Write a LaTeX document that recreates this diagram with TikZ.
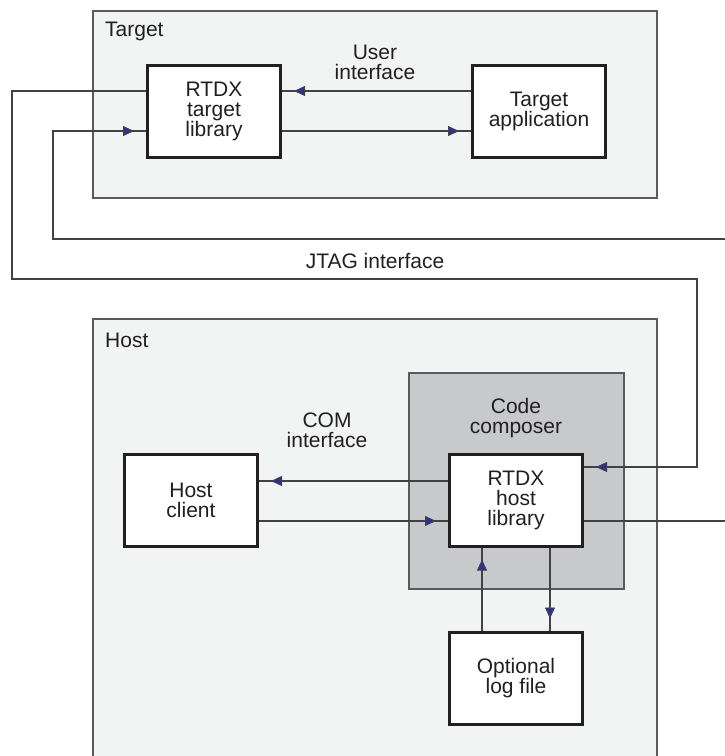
\documentclass[tikz,border=0pt]{standalone}
\usepackage{fontspec}
\setmainfont{Liberation Sans}
\usepackage{xcolor}
\usetikzlibrary{arrows.meta,positioning,decorations.markings}

\definecolor{panelfill}{HTML}{F2F3F3}
\definecolor{panelline}{HTML}{5A5A5A}
\definecolor{ccfill}{HTML}{C8C9CB}
\definecolor{inkdark}{HTML}{231F20}
\definecolor{tipblue}{HTML}{2E3192}

\begin{document}
\begin{tikzpicture}[
  x=1pt, y=-1pt,
  font=\fontsize{21}{20}\selectfont, text=inkdark,
  panel/.style={draw=panelline, line width=1.3pt, fill=panelfill},
  box/.style={draw=inkdark, line width=3pt, fill=white, align=center, minimum width=133pt, minimum height=92pt, inner sep=0pt},
  lbl/.style={align=center, inner sep=0pt},
  wire/.style={draw=inkdark!85, line width=1.1pt},
  arr/.style={wire, postaction={decorate}, decoration={markings, mark=at position -12pt with {\arrow[line width=0.8pt]{Triangle[length=11pt, width=10pt, fill=tipblue]}}}}
]
\useasboundingbox (0,0) rectangle (725,756);
\clip (0,0) rectangle (725,756);

% containers
\path[panel] (93,11) rectangle (657,198);
\path[panel] (93,319) rectangle (657,780);
\path[draw=panelline, line width=1.3pt, fill=ccfill] (409,373) rectangle (624,589);
\node[lbl, anchor=west] (tgtname) at (105,31) {Target};
\node[lbl, anchor=west] (hostname) at (105,340) {Host};
\node[lbl] (ccname) at (516,418) {Code\\composer};

% target side
\node[box] (tlib) at (214,111) {RTDX\\target\\library};
\node[box, right=189pt of tlib] (tapp) {Target\\application};
\node[lbl] (uif) at (375,62) {User\\interface};

% host side
\node[box] (hlib) at (516,500) {RTDX\\host\\library};
\node[box, left=189pt of hlib] (hclient) {Host\\client};
\node[box, below=83pt of hlib] (logf) {Optional\\log file};
\node[lbl] (comif) at (327,430) {COM\\interface};

% JTAG link
\node[lbl] (jtag) at (375,261) {JTAG interface};
\coordinate (jl) at (12,279);
\coordinate (jr) at (697,279);
\coordinate (jb) at (53,239);
\coordinate (edgeA) at (725,239);
\coordinate (edgeB) at (725,521);

\draw[arr] ([yshift=20pt]tapp.west) -- ([yshift=20pt]tlib.east);
\draw[arr] ([yshift=-20pt]tlib.east) -- ([yshift=-20pt]tapp.west);
\draw[arr] ([yshift=20pt]tlib.west) -| (jl) -- (jr) |- ([yshift=33pt]hlib.east);
\draw[arr] (edgeA) -- (jb) |- ([yshift=-20pt]tlib.west);
\draw[wire] ([yshift=-21pt]hlib.east) -- (edgeB);
\draw[arr] ([yshift=19pt]hlib.west) -- ([yshift=19pt]hclient.east);
\draw[arr] ([yshift=-21pt]hclient.east) -- ([yshift=-21pt]hlib.west);
\draw[arr] ([xshift=-34pt]logf.north) -- ([xshift=-34pt]hlib.south);
\draw[arr] ([xshift=34pt]hlib.south) -- ([xshift=34pt]logf.north);
\end{tikzpicture}
\end{document}
